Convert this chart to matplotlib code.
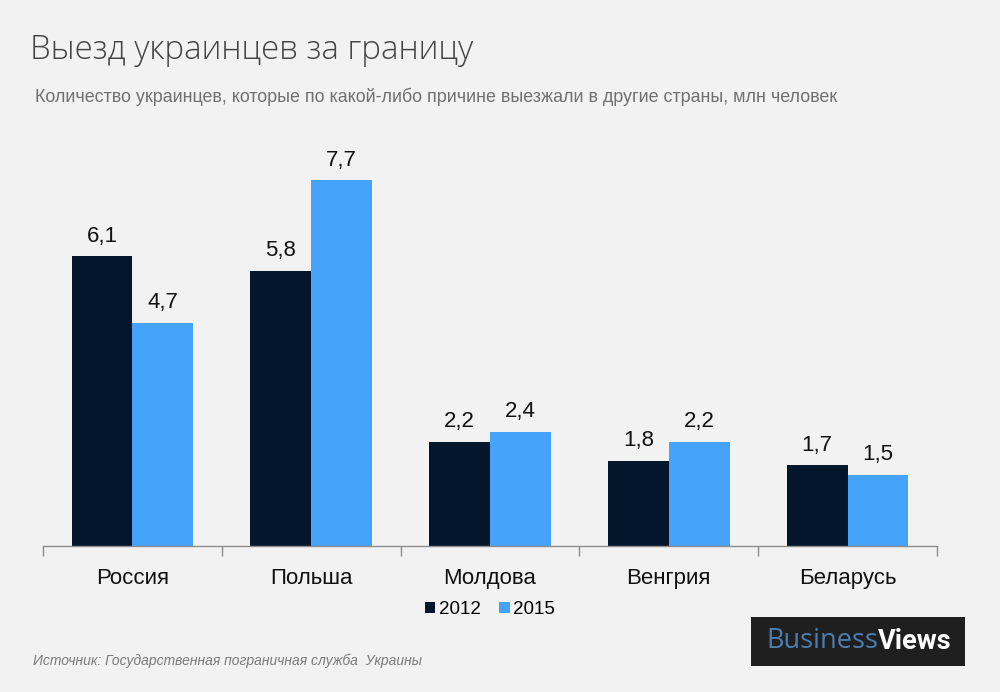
import numpy as np
import matplotlib.pyplot as plt
from matplotlib.patches import Rectangle

# data
countries = ['Россия', 'Польша', 'Молдова', 'Венгрия', 'Беларусь']
years = ['2012', '2015']
values_2012 = [6.1, 5.8, 2.2, 1.8, 1.7]
values_2015 = [4.7, 7.7, 2.4, 2.2, 1.5]

dark = '#04162c'
blue = '#45a4fa'
bg = '#f2f2f2'

plt.rcParams['font.family'] = ['Liberation Sans', 'DejaVu Sans']

fig = plt.figure(figsize=(10, 6.92), dpi=100, facecolor=bg)
ax = fig.add_axes([0.043, 0.211, 0.894, 0.549], facecolor=bg)

x = np.arange(len(countries))
w = 0.34
b1 = ax.bar(x - w / 2, values_2012, w, color=dark, label=years[0])
b2 = ax.bar(x + w / 2, values_2015, w, color=blue, label=years[1])

def fmt(v):
    return ('%.1f' % v).replace('.', ',')

for bars, vals in ((b1, values_2012), (b2, values_2015)):
    for r, v in zip(bars, vals):
        ax.annotate(fmt(v), (r.get_x() + r.get_width() / 2, v),
                    xytext=(0, 7), textcoords='offset points',
                    ha='center', va='bottom', fontsize=16, color='#111111')

ax.set_xlim(-0.5, len(countries) - 0.5)
ax.set_ylim(0, 8)
ax.set_yticks([])
for s in ['top', 'right', 'left']:
    ax.spines[s].set_visible(False)
ax.spines['bottom'].set_color('#8c8c8c')
ax.spines['bottom'].set_linewidth(1)

ax.set_xticks(x)
ax.set_xticklabels(countries, fontsize=16, color='#111111')
ax.tick_params(axis='x', which='major', length=0, pad=16)
ax.set_xticks(np.arange(-0.5, len(countries)), minor=True)
ax.tick_params(axis='x', which='minor', length=7, color='#8c8c8c', width=1)

ax.legend(loc='upper center', bbox_to_anchor=(0.5, -0.1), ncol=2,
          frameon=False, fontsize=13.5, handlelength=0.55, handleheight=0.55,
          handletextpad=0.2, columnspacing=1.0)

fig.text(0.030, 0.928, 'Выезд украинцев за границу', fontsize=23.8,
         color='#444444', fontweight='light', va='center',
         family=['Open Sans', 'DejaVu Sans'])
fig.text(0.035, 0.860,
         'Количество украинцев, которые по какой-либо причине выезжали в другие страны, млн человек',
         fontsize=12.9, color='#707070', va='center')
fig.text(0.033, 0.045, 'Источник: Государственная пограничная служба  Украины',
         fontsize=10, color='#7a7a7a', style='italic', va='center')

# logo
fig.patches.append(Rectangle((0.751, 0.037), 0.214, 0.071, transform=fig.transFigure,
                             facecolor='#1f1f1f', edgecolor='none'))
t1 = fig.text(0.766, 0.073, 'Business', fontsize=19.5, color='#4a7fb0',
              va='center', family=['Open Sans', 'DejaVu Sans'])
fig.canvas.draw()
bb = t1.get_window_extent().transformed(fig.transFigure.inverted())
fig.text(bb.x1, 0.073, 'Views', fontsize=19.5, color='white', fontweight='bold',
         va='center', family=['Roboto', 'DejaVu Sans'])

fig.savefig('out.png', dpi=100, facecolor=bg)
